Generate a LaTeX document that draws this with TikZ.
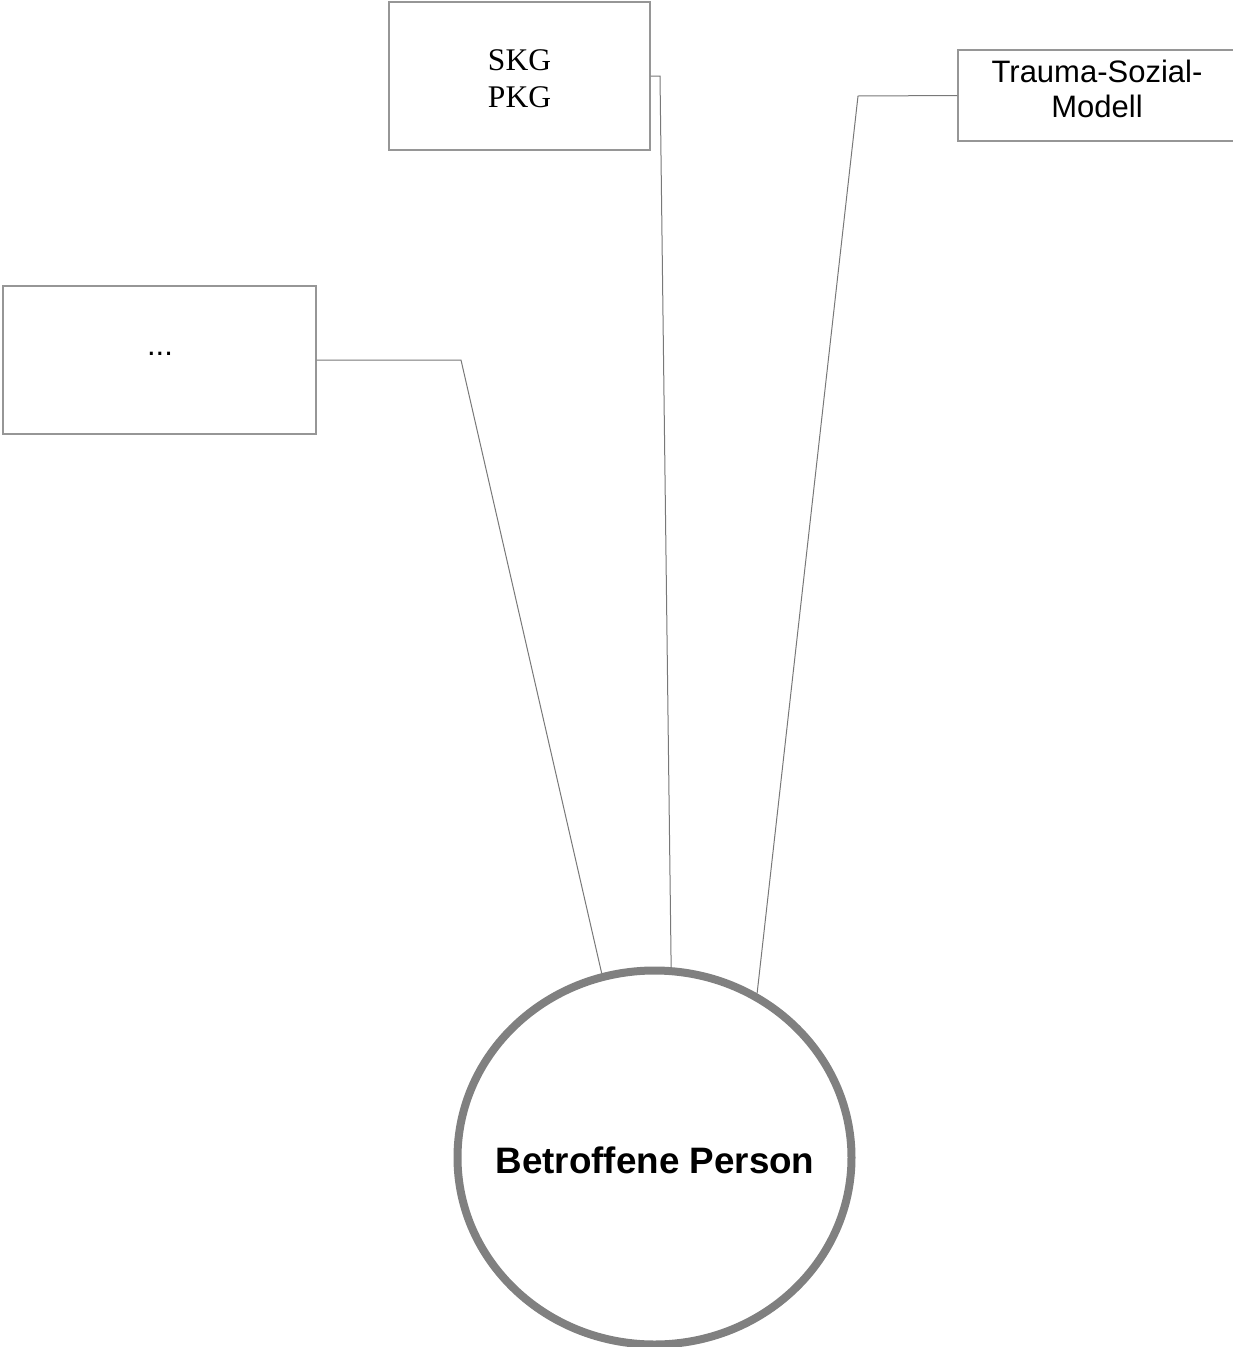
\documentclass[tikz,border=0pt]{standalone}
\usepackage{fontspec}
\setmainfont{Liberation Serif}
\newfontfamily\arialfont{Liberation Sans}
\usetikzlibrary{shapes.geometric}
\definecolor{boxgray}{RGB}{150,150,150}
\definecolor{linegray}{RGB}{120,120,120}
\definecolor{ringgray}{RGB}{128,128,128}
\tikzset{
  box/.style={draw=boxgray, line width=1.3pt, rectangle, inner sep=0pt},
  conn/.style={draw=linegray, line width=1pt},
  ring/.style={draw=ringgray, line width=8pt, ellipse, inner sep=0pt},
  sanslabel/.style={font=\arialfont\fontsize{31}{35}\selectfont, align=center, inner sep=0pt},
}
\begin{document}
\begin{tikzpicture}[x=1pt, y=-1pt]
\useasboundingbox (0,0) rectangle (1232,1347);
% boxes
\node[box, minimum width=313pt, minimum height=148pt] (dots) at (159.5,360) {};
\node[sanslabel] (dotstext) at (160,354) {...};
\node[box, minimum width=261pt, minimum height=148pt] (skg) at (519.5,76) {};
\node[align=center, inner sep=0pt, font=\fontsize{31.5}{37}\selectfont] (skgtext) at (519.5,79) {SKG\\PKG};
\node[box, minimum width=284pt, minimum height=91pt] (tsm) at (1100,95.5) {};
\node[sanslabel] (tsmtext) at (1097,89) {Trauma-Sozial-\\Modell};
% circle
\node[ring, minimum width=394pt, minimum height=374pt] (person) at (654.5,1157.5) {};
\node[font=\arialfont\bfseries\fontsize{36.8}{40}\selectfont, inner sep=0pt] (persontext) at (655,1160.5) {Betroffene Person};
% bend points
\coordinate (bdots) at (461,360);
\coordinate (bskg) at (660,76);
\coordinate (btsm) at (858,96);
% connectors
\draw[conn] (dots.east) -- (bdots) -- (person.106);
\draw[conn] (skg.east) -- (bskg) -- (person.85);
\draw[conn] (tsm.west) -- (btsm) -- (person.58);
\end{tikzpicture}
\end{document}
